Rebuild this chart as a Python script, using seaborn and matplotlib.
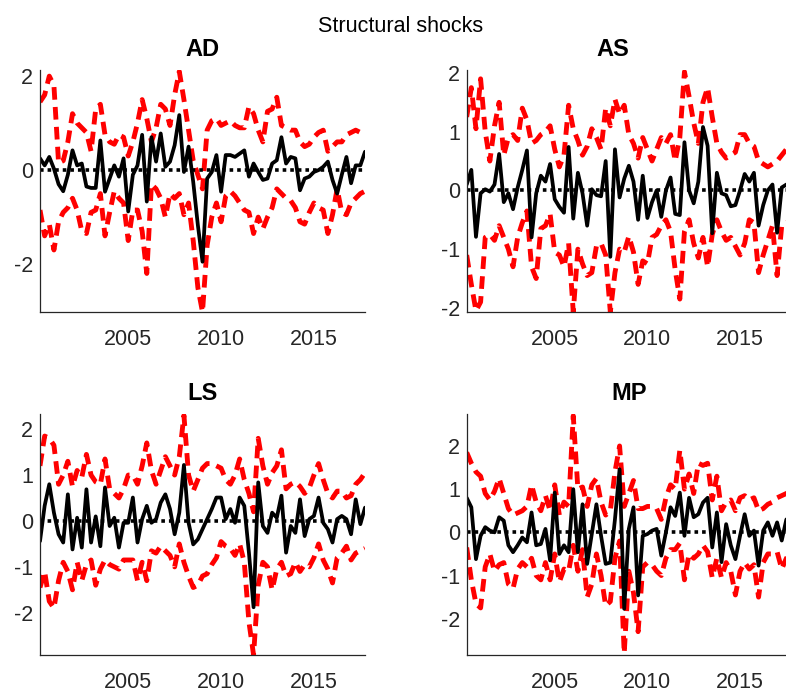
import numpy as np
import pandas as pd
import matplotlib
matplotlib.use("Agg")
import matplotlib.pyplot as plt
import seaborn as sns

# quarterly dates 2000Q2 .. 2017Q4
dates = np.arange(2000.25, 2017.76, 0.25)

titles = ["AD", "AS", "LS", "MP"]

ad_med = [0.25, 0.1, 0.28, 0.03, -0.3, -0.45, -0.1, 0.42, 0.1, 0.14, -0.35, -0.38, -0.38, 0.63, -0.46, -0.18,
          0.1, -0.14, 0.25, -0.88, -0.1, 0.1, 0.75, -0.67, 0.7, 0.18, 0.78, 0.07, 0.18, 0.53, 1.17, -0.04,
          0.5, -0.25, -1.17, -1.95, -0.18, -0.04, 0.32, -0.46, 0.32, 0.32, 0.28, 0.35, 0.42, -0.14, 0.14, -0.04,
          -0.21, -0.18, 0.14, 0.21, 0.7, 0.14, 0.28, 0.25, -0.43, -0.18, -0.14, -0.04, 0.0, 0.07, 0.18, -0.21,
          -0.5, -0.1, 0.28, -0.28, 0.1, 0.1, 0.39]
ad_up = [1.45, 1.6, 2.0, 1.8, 0.15, 0.2, 0.6, 1.2, 1.0, 0.9, 0.8, 0.4, 1.3, 1.4, 0.75, 0.6,
         0.55, 0.75, 0.7, 0.3, 0.6, 1.0, 1.5, 1.1, 0.6, 0.9, 1.4, 1.3, 0.95, 1.6, 2.1, 1.5,
         0.85, 0.2, -0.1, -0.4, 0.85, 1.05, 1.1, 0.95, 1.0, 1.05, 0.95, 0.9, 0.9, 1.35, 1.2, 0.85,
         0.6, 1.25, 1.3, 1.55, 0.95, 0.9, 0.85, 0.85, 0.6, 0.5, 0.55, 0.7, 0.8, 0.85, 0.4, 0.5,
         0.6, 0.6, 0.75, 0.8, 0.85, 0.8, 0.85]
ad_lo = [-0.85, -1.4, -1.15, -1.7, -1.1, -0.9, -0.8, -0.6, -0.85, -1.3, -1.35, -0.9, -0.85, -0.5, -1.4, -0.9,
         -0.45, -0.6, -0.7, -1.5, -0.85, -0.85, -1.3, -2.2, -0.3, -0.4, -0.6, -1.0, -0.5, -0.6, -0.5, -0.95,
         -0.7, -1.5, -2.5, -3.02, -1.6, -1.0, -0.7, -1.1, -0.55, -0.45, -0.55, -0.7, -0.85, -0.9, -1.35, -1.0,
         -1.25, -1.0, -0.8, -0.4, -0.5, -0.6, -0.65, -0.8, -1.1, -1.15, -0.9, -0.7, -0.8, -0.85, -1.35, -0.95,
         -0.4, -0.9, -0.95, -0.7, -0.6, -0.5, -0.45]

as_med = [0.1, 0.35, -0.79, -0.05, 0.02, -0.02, 0.1, 0.62, -0.2, -0.05, -0.32, 0.05, 0.35, 0.68, -0.8, -0.05,
          0.25, 0.15, 0.45, -0.15, -0.28, -0.38, 0.74, -0.48, 0.3, -0.05, -0.6, 0.02, -0.08, -0.1, 0.5, -1.13,
          0.7, -0.12, 0.2, 0.42, 0.15, -0.5, 0.25, -0.47, -0.2, 0.0, -0.45, 0.0, 0.22, -0.4, -0.42, 0.82,
          0.0, -0.22, 0.15, 1.08, 0.76, -0.73, 0.3, -0.05, -0.08, -0.27, -0.25, 0.0, 0.28, 0.15, 0.3, -0.6,
          -0.25, 0.0, 0.1, -0.72, 0.05, 0.1, 0.0]
as_up = [1.25, 1.75, 1.05, 1.9, 1.0, 0.5, 1.1, 1.5, 0.6, 0.9, 0.95, 0.85, 1.4, 1.2, 0.8, 0.85,
         0.95, 1.0, 1.1, 0.7, 0.4, 0.6, 1.45, 1.05, 0.85, 0.6, 0.75, 1.05, 0.9, 0.7, 1.4, 1.1,
         1.55, 1.3, 1.45, 0.95, 0.8, 0.55, 0.9, 0.7, 0.5, 0.7, 0.9, 0.8, 0.95, 0.5, 0.9, 2.02,
         1.6, 1.15, 0.8, 1.5, 1.75, 1.25, 0.8, 0.65, 0.55, 0.6, 0.65, 0.95, 0.95, 0.8, 0.75, 0.5,
         0.45, 0.4, 0.45, 0.5, 0.6, 0.7, 0.75]
as_lo = [-1.1, -1.6, -2.05, -1.9, -0.8, -0.75, -0.85, -0.6, -0.8, -1.0, -1.3, -0.8, -0.55, -0.35, -1.3, -1.5,
         -0.65, -0.6, -0.4, -1.05, -1.1, -1.3, -0.9, -2.07, -1.0, -1.25, -1.45, -1.4, -0.95, -0.9, -1.1, -2.07,
         -1.4, -1.0, -1.05, -0.78, -1.05, -1.6, -1.2, -1.25, -0.8, -0.75, -0.6, -0.5, -0.7, -1.35, -1.85, -0.7,
         -0.5, -0.9, -1.15, -0.8, -1.3, -0.75, -0.5, -0.7, -0.85, -0.8, -0.95, -1.1, -0.9, -0.5, -0.55, -1.4,
         -1.1, -0.85, -0.6, -1.45, -0.6, -0.55, -0.5]

ls_med = [-0.44, 0.33, 0.8, 0.18, -0.29, -0.47, 0.58, -0.62, 0.07, -0.58, 0.69, -0.47, 0.1, -0.55, 0.73, -0.11,
          0.07, -0.58, -0.04, -0.04, 0.51, -0.47, 0.04, 0.33, -0.04, 0.04, 0.4, 0.58, 0.26, -0.29, 0.18, 1.22,
          -0.04, -0.51, -0.4, -0.18, 0.04, 0.26, 0.51, 0.51, 0.04, 0.26, -0.04, 0.51, 0.33, -0.69, -1.88, 0.84,
          -0.11, -0.26, 0.18, 0.07, 0.55, -0.69, -0.11, -0.26, 0.47, -0.33, 0.04, 0.11, 0.51, -0.04, -0.18, -0.47,
          0.04, 0.11, 0.04, -0.29, 0.47, -0.07, 0.29]
ls_up = [1.2, 1.85, 1.8, 1.65, 0.8, 1.0, 1.3, 0.75, 1.1, 0.95, 1.45, 1.0, 0.85, 0.8, 1.35, 0.7,
         0.6, 0.5, 0.7, 1.0, 1.0, 0.8, 1.2, 1.7, 1.1, 0.8, 1.1, 1.4, 1.2, 1.0, 1.4, 2.3,
         1.0, 0.65, 0.9, 1.15, 1.25, 1.25, 1.2, 1.15, 0.9, 0.8, 1.0, 1.35, 0.9, 0.6, 0.2, 1.8,
         1.2, 0.8, 1.05, 1.2, 1.55, 0.7, 0.8, 0.85, 0.75, 0.6, 0.72, 1.0, 1.25, 0.9, 0.6, 0.5,
         0.65, 0.65, 0.5, 0.55, 0.8, 0.9, 1.05]
ls_lo = [-1.45, -1.1, -1.75, -1.9, -1.3, -0.9, -1.1, -1.5, -0.9, -1.3, -0.95, -0.85, -1.4, -1.05, -0.85, -0.95,
         -1.0, -1.05, -0.85, -0.85, -0.85, -1.3, -0.9, -1.3, -0.65, -0.7, -0.55, -0.65, -0.75, -1.0, -0.5, -0.9,
         -1.2, -1.45, -1.4, -1.2, -1.15, -0.95, -0.8, -0.45, -0.55, -0.6, -0.75, -0.5, -0.9, -2.2, -2.92, -1.4,
         -0.9, -1.0, -1.5, -1.05, -0.9, -1.2, -1.15, -0.9, -1.1, -0.95, -1.0, -0.8, -0.5, -0.85, -1.05, -1.35,
         -0.8, -0.7, -0.55, -0.85, -0.7, -0.65, -0.6]

mp_med = [0.8, 0.58, -0.62, -0.08, 0.12, 0.04, 0.0, 0.35, 0.27, -0.3, -0.46, -0.3, -0.12, -0.23, 0.46, -0.3,
          -0.27, 0.08, -0.65, 0.92, -0.5, -0.3, -0.46, 1.0, -0.46, 0.65, -0.73, -0.04, 0.65, -0.08, -0.73, -0.7,
          0.3, 1.46, -1.77, 0.08, 0.58, -1.46, -0.08, -0.04, 0.04, 0.08, -0.54, 0.0, 0.58, 0.38, 0.92, -0.08,
          0.8, 0.35, 0.42, 0.69, 0.8, -0.35, 0.46, -0.69, 0.19, -0.3, -0.62, -0.08, 0.42, -0.08, 0.04, -0.77,
          0.04, 0.23, -0.08, 0.23, -0.19, 0.3, 0.3]
mp_up = [1.85, 1.6, 1.4, 1.3, 0.9, 0.75, 0.95, 1.25, 0.9, 0.55, 0.4, 0.45, 0.5, 0.6, 1.1, 0.7,
         0.5, 0.85, 0.5, 1.1, 0.4, 0.7, 0.6, 2.7, 1.0, 1.05, 0.6, 1.1, 1.25, 0.7, 0.4, 0.5,
         1.4, 2.0, 0.6, 0.9, 1.2, 0.55, 0.55, 0.6, 0.6, 0.55, 0.3, 0.8, 1.1, 1.0, 1.9, 1.0,
         1.35, 0.9, 1.6, 1.55, 1.6, 0.75, 1.3, 0.5, 0.7, 0.75, 0.5, 0.8, 0.85, 0.75, 0.8, 0.5,
         0.55, 0.65, 0.7, 0.8, 0.85, 0.9, 0.95]
mp_lo = [-0.35, -1.1, -1.65, -1.75, -0.8, -0.5, -0.9, -0.75, -0.7, -1.2, -1.3, -0.85, -0.7, -0.8, -0.6, -1.0,
         -1.1, -0.7, -1.1, -0.5, -1.15, -0.85, -0.9, -0.3, -0.9, -0.4, -1.5, -1.2, -0.5, -1.0, -1.7, -1.6,
         -0.6, -0.2, -2.8, -0.9, -1.4, -2.3, -0.8, -0.7, -0.75, -0.9, -1.0, -0.6, -0.4, -0.4, -0.25, -1.1,
         -0.5, -0.6, -0.5, -0.3, -0.45, -1.05, -0.6, -1.05, -0.7, -0.9, -1.45, -0.9, -0.7, -0.85, -0.75, -1.5,
         -0.7, -0.5, -0.5, -0.45, -0.85, -0.6, -0.45]

medians = [ad_med, as_med, ls_med, mp_med]
uppers = [ad_up, as_up, ls_up, mp_up]
lowers = [ad_lo, as_lo, ls_lo, mp_lo]
ylims = [(-3.02, 2.13), (-2.07, 2.05), (-2.92, 2.33), (-2.84, 2.74)]
yticks = [[-2, 0, 2], [-2, -1, 0, 1, 2], [-2, -1, 0, 1, 2], [-2, -1, 0, 1, 2]]
xticks = [2005, 2010, 2015]

sns.set_style("white")
plt.rcParams['font.family'] = ['Liberation Sans', 'DejaVu Sans']
plt.rcParams['axes.unicode_minus'] = False

W, H = 786, 693
fig = plt.figure(figsize=(W / 100, H / 100), dpi=100)

# axes boxes in pixels: left, top, right, bottom
boxes = [(40, 70, 365, 312), (466.7, 70, 791, 312), (40, 414, 365, 655), (466.7, 414, 791, 655)]
title_x = [202, 613, 202, 629]
axc = (0.15, 0.15, 0.15)

for k in range(4):
    l, t, r, b = boxes[k]
    ax = fig.add_axes([l / W, 1 - b / H, (r - l) / W, (b - t) / H])
    df = pd.DataFrame({"date": dates, "med": medians[k], "up": uppers[k], "lo": lowers[k]})
    for col in ["lo", "up"]:
        sns.lineplot(data=df, x="date", y=col, ax=ax, color="red", linewidth=3.5,
                     linestyle=(0, (2.6, 1.5)), estimator=None, legend=False)
    sns.lineplot(data=df, x="date", y="med", ax=ax, color="black", linewidth=2.7,
                 estimator=None, legend=False)
    ax.axhline(0, color="black", linewidth=2.6, linestyle=(0, (1, 1.1)))
    ax.set_xlim(dates[0], dates[-1])
    ax.set_ylim(*ylims[k])
    ax.set_xticks(xticks)
    ax.set_yticks(yticks[k])
    ax.set_xlabel("")
    ax.set_ylabel("")
    for s in ["top", "right"]:
        ax.spines[s].set_visible(False)
    for s in ["left", "bottom"]:
        ax.spines[s].set_color(axc)
        ax.spines[s].set_linewidth(0.9)
    ax.tick_params(axis="both", direction="in", length=4, width=0.8, colors=axc,
                   labelsize=15.5, labelcolor=axc)
    ax.tick_params(axis="x", pad=12)
    ax.tick_params(axis="y", pad=5)
    ax.set_facecolor("white")
    fig.text(title_x[k] / W, 1 - (t - 20) / H, titles[k], ha="center", va="center",
             fontsize=17, fontweight="bold", color="black")

fig.text(401 / W, 1 - 26 / H, "Structural shocks", ha="center", va="center",
         fontsize=15.5, color="black")

fig.savefig("out.png", dpi=100, facecolor="white")
